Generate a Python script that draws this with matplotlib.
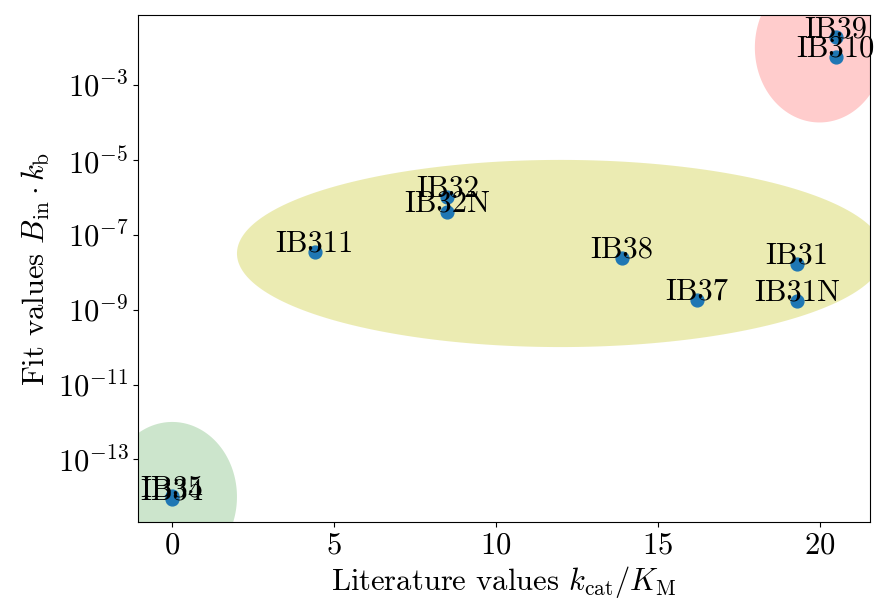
import numpy as np
import matplotlib
matplotlib.use('Agg')
import matplotlib.pyplot as plt
from matplotlib.ticker import NullLocator

plt.rcParams['font.family'] = 'serif'
plt.rcParams['font.serif'] = ['cmr10']
plt.rcParams['mathtext.fontset'] = 'cm'
plt.rcParams['axes.formatter.use_mathtext'] = True
plt.rcParams['font.size'] = 22

# data
names = ['IB39', 'IB310', 'IB32', 'IB32N', 'IB311', 'IB38', 'IB31',
         'IB37', 'IB31N', 'IB35', 'IB34']
lit_values = [20.5, 20.5, 8.5, 8.5, 4.4, 13.9, 19.3, 16.2, 19.3, 0.0, 0.0]
fit_log10 = [-1.72, -2.25, -5.99, -6.39, -7.45, -7.61, -7.77, -8.73, -8.76,
             -13.98, -14.07]
fit_values = [10 ** v for v in fit_log10]

# group ellipses: centre x, centre log10(y), width, height in decades
ell_cx = [20.0, 12.0, 0.0]
ell_cy = [-2.0, -7.5, -14.0]
ell_w = [4.0, 20.0, 4.0]
ell_h = [4.0, 5.0, 4.0]
ell_colors = ['r', 'y', 'g']
ell_alpha = [0.2, 0.3, 0.2]

fig = plt.figure(figsize=(8.75, 6.01), dpi=100)
ax = fig.add_axes([0.158, 0.131, 0.836, 0.844])

t = np.linspace(0, 2 * np.pi, 400)
for cx, cy, w, h, c, a in zip(ell_cx, ell_cy, ell_w, ell_h, ell_colors, ell_alpha):
    ex = cx + w / 2 * np.cos(t)
    ey = 10 ** (cy + h / 2 * np.sin(t))
    ax.fill(ex, ey, color=c, alpha=a, lw=0, zorder=0)

ax.scatter(lit_values, fit_values, s=85, color='tab:blue', zorder=2)

for n, x, y in zip(names, lit_values, fit_values):
    ax.annotate(n, (x, y), ha='center', zorder=3)

ax.set_yscale('log')
ax.set_xlim(-1.05, 21.55)
ax.set_ylim(10 ** -14.68, 10 ** -1.13)
ax.set_yticks([1e-13, 1e-11, 1e-9, 1e-7, 1e-5, 1e-3])
ax.yaxis.set_minor_locator(NullLocator())
ax.set_xticks([0, 5, 10, 15, 20])

ax.set_xlabel(r'Literature values $k_\mathrm{cat}/K_\mathrm{M}$', labelpad=3)
ax.set_ylabel(r'Fit values $B_\mathrm{in}\cdot k_\mathrm{b}$')

fig.savefig('out.png', dpi=100)
